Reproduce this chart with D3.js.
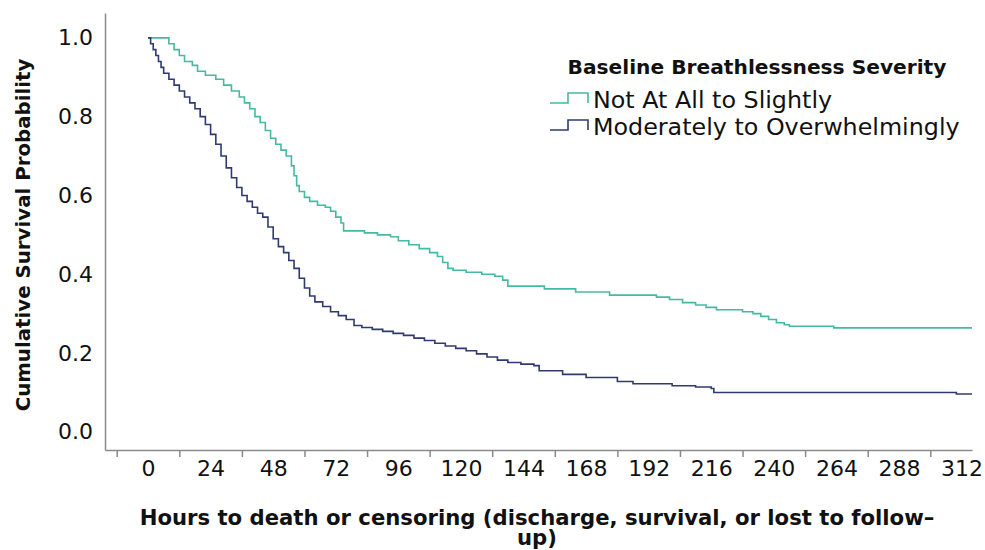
<!DOCTYPE html>
<html>
<head>
<meta charset="utf-8">
<script src="https://cdn.jsdelivr.net/npm/d3@7"></script>
<style>
  body { margin: 0; background: #fff; }
  svg text { font-family: "DejaVu Sans", Verdana, sans-serif; fill: #111; }
  .axis path, .axis line { stroke: #8a8a8a; stroke-width: 1.5; }
  .axis text { font-size: 22px; }
  .title { font-weight: bold; }
</style>
</head>
<body>
<script>
// Kaplan-Meier estimates: [hours, survival]
const groups = ["Not At All to Slightly", "Moderately to Overwhelmingly"];
const colors = ["#45b9a3", "#2f3b70"];

const mildSteps = [
  [0, 1.0], [8, 0.985], [10, 0.97], [12, 0.955], [14, 0.94], [17, 0.93], [19, 0.915],
  [22, 0.905], [26, 0.895], [29, 0.88], [32, 0.865], [35, 0.85], [37, 0.835], [39, 0.82],
  [41, 0.80], [43, 0.785], [45, 0.765], [47, 0.745], [49, 0.73], [51, 0.715], [53, 0.70],
  [55, 0.675], [56, 0.65], [57, 0.625], [58, 0.61], [60, 0.595], [62, 0.585], [65, 0.575],
  [68, 0.57], [70, 0.56], [72, 0.545], [74, 0.53], [75, 0.51], [83, 0.505], [88, 0.50],
  [93, 0.495], [96, 0.485], [100, 0.475], [104, 0.465], [108, 0.455], [111, 0.445],
  [113, 0.43], [115, 0.415], [117, 0.41], [122, 0.405], [128, 0.40], [133, 0.395],
  [136, 0.385], [138, 0.37], [152, 0.363], [164, 0.355], [177, 0.347], [195, 0.342],
  [200, 0.336], [205, 0.328], [210, 0.322], [214, 0.316], [218, 0.31], [228, 0.305],
  [232, 0.30], [235, 0.293], [238, 0.285], [241, 0.277], [244, 0.272], [246, 0.268],
  [263, 0.264], [316, 0.264]
];

const severeSteps = [
  [0, 1.0], [1, 0.985], [2, 0.97], [3, 0.955], [4, 0.94], [5, 0.925], [6, 0.91], [8, 0.895],
  [10, 0.88], [12, 0.865], [14, 0.85], [16, 0.835], [18, 0.82], [20, 0.80], [22, 0.78],
  [24, 0.755], [26, 0.73], [28, 0.70], [30, 0.67], [32, 0.645], [34, 0.62], [36, 0.60],
  [38, 0.585], [40, 0.57], [42, 0.555], [44, 0.545], [46, 0.52], [48, 0.49], [50, 0.47],
  [52, 0.455], [54, 0.435], [56, 0.415], [58, 0.39], [60, 0.365], [62, 0.345], [64, 0.33],
  [67, 0.318], [70, 0.305], [73, 0.295], [76, 0.285], [79, 0.27], [82, 0.265], [86, 0.26],
  [90, 0.255], [94, 0.25], [98, 0.245], [102, 0.238], [106, 0.232], [110, 0.225],
  [114, 0.218], [118, 0.212], [122, 0.206], [126, 0.198], [130, 0.19], [134, 0.182],
  [138, 0.176], [143, 0.172], [148, 0.168], [150, 0.155], [159, 0.146], [168, 0.138],
  [180, 0.128], [186, 0.122], [201, 0.117], [210, 0.114], [216, 0.11], [217, 0.10],
  [310, 0.096], [316, 0.096]
];

const xTickLabels = d3.range(0, 313, 24);     // 0 .. 312
const xTickMarks = d3.range(-12, 301, 24);    // ticks sit between the labels
const yTickLabels = [0, 0.2, 0.4, 0.6, 0.8, 1.0];

let width = 985, height = 550;

let svg = d3.select("body").append("svg")
  .attr("width", width)
  .attr("height", height);

let xScale = d3.scaleLinear().domain([-16.5, 316]).range([105, 972]);
let yScale = d3.scaleLinear().domain([-0.046, 1.063]).range([450, 13]);

// y axis, no tick marks
svg.append("g")
  .attr("class", "axis")
  .attr("transform", "translate(105,0)")
  .call(d3.axisLeft(yScale)
    .tickValues(yTickLabels)
    .tickFormat(d3.format(".1f"))
    .tickSize(0)
    .tickPadding(12));

// x axis line + tick marks
svg.append("g")
  .attr("class", "axis")
  .attr("transform", "translate(0,450)")
  .call(d3.axisBottom(xScale)
    .tickValues(xTickMarks)
    .tickFormat("")
    .tickSizeInner(7)
    .tickSizeOuter(0));

// x tick labels
let xlab = svg.append("g")
  .attr("class", "axis")
  .attr("transform", "translate(0,450)")
  .call(d3.axisBottom(xScale)
    .tickValues(xTickLabels)
    .tickSize(0)
    .tickPadding(10));
xlab.select(".domain").remove();

// survival curves
let line = d3.line()
  .curve(d3.curveStepAfter)
  .x(function(d) { return xScale(d[0]); })
  .y(function(d) { return yScale(d[1]); });

[mildSteps, severeSteps].forEach(function(s, i) {
  svg.append("path")
    .datum(s)
    .attr("fill", "none")
    .attr("stroke", colors[i])
    .attr("stroke-width", 1.6)
    .attr("d", line);
});

// axis titles
svg.append("text")
  .attr("class", "title")
  .attr("transform", "translate(30,235) rotate(-90)")
  .attr("text-anchor", "middle")
  .style("font-size", "19.8px")
  .text("Cumulative Survival Probability");

svg.append("text")
  .attr("class", "title")
  .attr("x", 537).attr("y", 525)
  .attr("text-anchor", "middle")
  .style("font-size", "21.2px")
  .text("Hours to death or censoring (discharge, survival, or lost to follow\u2013");

svg.append("text")
  .attr("class", "title")
  .attr("x", 537).attr("y", 545)
  .attr("text-anchor", "middle")
  .style("font-size", "21.2px")
  .text("up)");

// legend
svg.append("text")
  .attr("class", "title")
  .attr("x", 757).attr("y", 74)
  .attr("text-anchor", "middle")
  .style("font-size", "20.2px")
  .text("Baseline Breathlessness Severity");

let legendRows = [108, 135];
groups.forEach(function(g, i) {
  let yb = legendRows[i] - 5;
  svg.append("path")
    .attr("fill", "none")
    .attr("stroke", colors[i])
    .attr("stroke-width", 1.6)
    .attr("d", "M550," + yb + "H568V" + (yb - 10) + "H588V" + yb);
  svg.append("text")
    .attr("x", 593).attr("y", legendRows[i])
    .style("font-size", "23.8px")
    .text(g);
});
</script>
</body>
</html>
